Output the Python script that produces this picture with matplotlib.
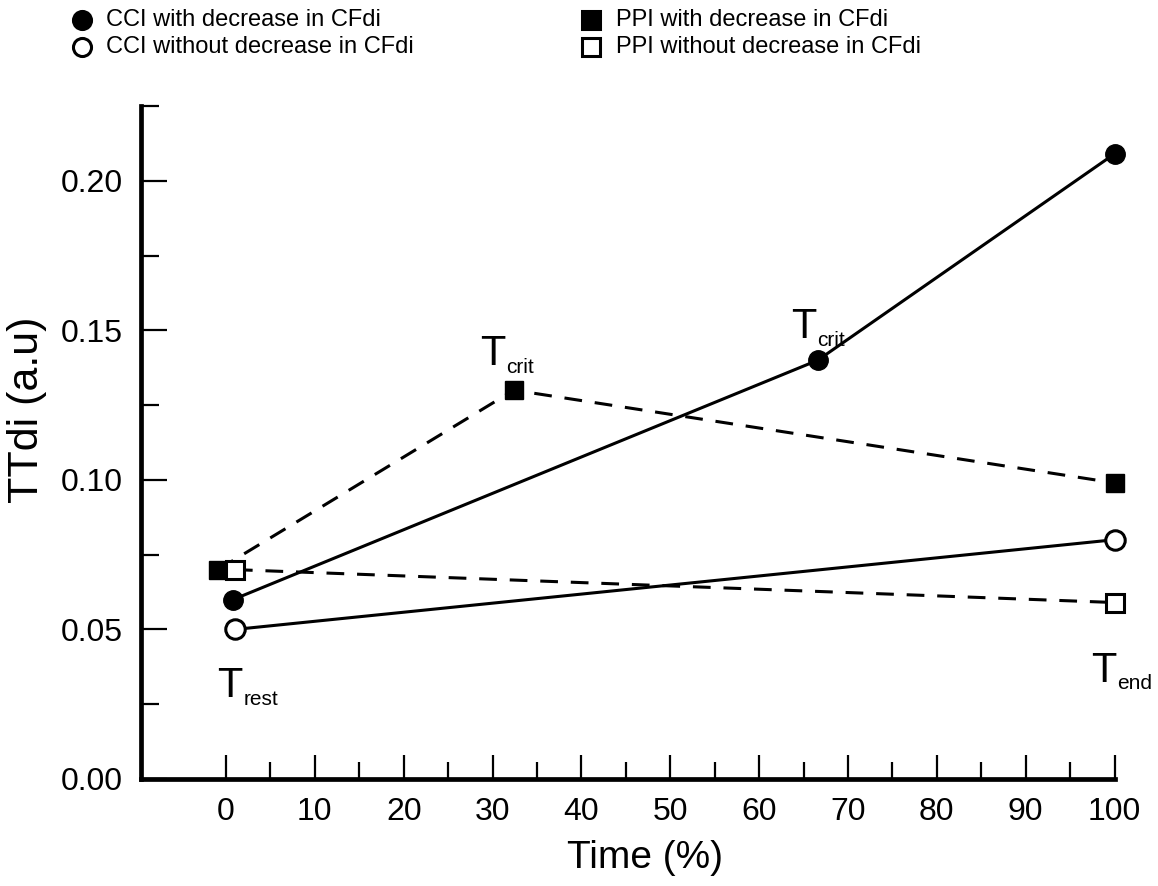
import matplotlib
matplotlib.use("Agg")
import matplotlib.pyplot as plt
from matplotlib.lines import Line2D
from matplotlib.ticker import FixedLocator

plt.rcParams['font.family'] = ['Liberation Sans', 'DejaVu Sans']

# ---- data ----
cci_dec_x = [0.8, 66.6, 100]
cci_dec_y = [0.060, 0.140, 0.209]
cci_nodec_x = [1.0, 100]
cci_nodec_y = [0.050, 0.080]
ppi_dec_x = [-0.9, 32.4, 100]
ppi_dec_y = [0.070, 0.130, 0.099]
ppi_nodec_x = [1.0, 100]
ppi_nodec_y = [0.070, 0.059]

legend_labels = ["CCI with decrease in CFdi", "CCI without decrease in CFdi",
                 "PPI with decrease in CFdi", "PPI without decrease in CFdi"]
x_ticks = list(range(0, 101, 10))
y_ticks = [0.00, 0.05, 0.10, 0.15, 0.20]

W, H = 1158, 886
fig = plt.figure(figsize=(W / 100, H / 100), dpi=100)
ax = fig.add_axes([141 / W, 1 - 779 / H, (1114.5 - 141) / W, (779 - 106) / H])

lw = 2.2
ms_c = 14
ms_s = 13
dash = (5.8, 4.2)

ax.plot(cci_dec_x, cci_dec_y, '-', color='black', lw=lw, marker='o', ms=ms_c,
        mfc='black', mec='black', clip_on=False, zorder=3)
ax.plot(cci_nodec_x, cci_nodec_y, '-', color='black', lw=lw, marker='o', ms=ms_c,
        mfc='white', mec='black', mew=2.2, clip_on=False, zorder=3)
ax.plot(ppi_dec_x, ppi_dec_y, color='black', lw=lw, dashes=dash, marker='s', ms=ms_s,
        mfc='black', mec='black', clip_on=False, zorder=3)
ax.plot(ppi_nodec_x, ppi_nodec_y, color='black', lw=lw, dashes=dash, marker='s', ms=ms_s,
        mfc='white', mec='black', mew=2.2, clip_on=False, zorder=4)

ax.set_xlim(-9.57, 100)
ax.set_ylim(0, 0.225)

for s in ['top', 'right']:
    ax.spines[s].set_visible(False)
for s in ['left', 'bottom']:
    ax.spines[s].set_linewidth(3.4)

ax.xaxis.set_major_locator(FixedLocator(x_ticks))
ax.xaxis.set_minor_locator(FixedLocator(list(range(5, 100, 10))))
ax.yaxis.set_major_locator(FixedLocator(y_ticks))
ax.yaxis.set_minor_locator(FixedLocator([0.025, 0.075, 0.125, 0.175, 0.225]))
ax.set_xticklabels([str(v) for v in x_ticks])
ax.set_yticklabels([f"{v:.2f}" for v in y_ticks])

ax.tick_params(axis='x', which='major', direction='in', length=17, width=1.6,
               labelsize=23, pad=13)
ax.tick_params(axis='x', which='minor', direction='in', length=12, width=1.6)
ax.tick_params(axis='y', which='major', direction='in', length=19, width=1.6,
               labelsize=23, pad=13)
ax.tick_params(axis='y', which='minor', direction='in', length=13, width=1.6)

fig.text(27 / W, 1 - 410 / H, "TTdi (a.u)", rotation=90, fontsize=31,
         ha='center', va='center')
fig.text(645 / W, 1 - 858 / H, "Time (%)", fontsize=28, ha='center', va='center')

# T annotations (T + subscript)
def tlabel(xt, yt, ys, sub):
    ax.text(xt, yt, "T", fontsize=30, ha='left', va='baseline')
    ax.text(xt + 2.95, ys, sub, fontsize=15, ha='left', va='baseline')

tlabel(-1.0, 0.0274, 0.0247, "rest")
tlabel(97.4, 0.0324, 0.0301, "end")
tlabel(28.6, 0.1383, 0.1356, "crit")
tlabel(63.6, 0.1476, 0.1446, "crit")

# legend (manual)
leg_fs = 17
rows_y = [20, 47]
col_marker_x = [82, 591]
col_text_x = [106, 616]
specs = [('o', 'black', 0, 0), ('o', 'white', 0, 1), ('s', 'black', 1, 0), ('s', 'white', 1, 1)]
for (mk, fc, c, r), lab in zip(specs, legend_labels):
    fig.add_artist(Line2D([col_marker_x[c] / W], [1 - rows_y[r] / H], marker=mk,
                          ms=13, mfc=fc, mec='black', mew=2.2,
                          transform=fig.transFigure, linestyle='none'))
    fig.text(col_text_x[c] / W, 1 - rows_y[r] / H, lab, fontsize=leg_fs,
             ha='left', va='center')

fig.savefig("out.png", dpi=100)
